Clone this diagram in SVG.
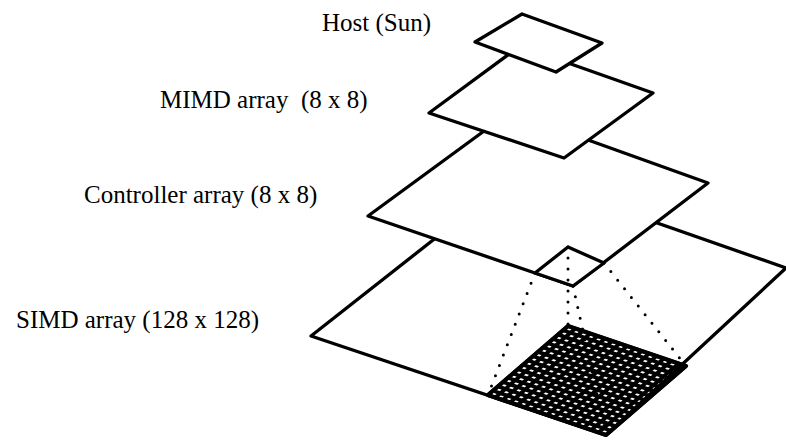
<svg xmlns="http://www.w3.org/2000/svg" width="786" height="442" viewBox="0 0 786 442">
<style>
.plane{fill:#fff;stroke:#000;stroke-width:3.3;stroke-linejoin:round}
.lbl{font-family:"Liberation Serif","Times New Roman",serif;font-size:25px;fill:#000;white-space:pre}
.grid{fill:none;stroke:#000;stroke-width:3.8}
.dot{fill:none;stroke:#000;stroke-width:3;stroke-linecap:round;stroke-dasharray:0 11}
</style>
<rect width="786" height="442" fill="#fff"/>
<g id="simd">
<polygon class="plane" points="517,174 786,268 606,435 311,336"/>
</g>
<g id="controller">
<polygon class="plane" points="510,112 708,183 573,286 368,216"/>
<polygon id="controller-cell" class="plane" points="568,247 604,263 573,286 535,273"/>
</g>
<g id="mimd">
<polygon class="plane" points="520,46 653,93 564,158 429,113"/>
</g>
<g id="host">
<polygon class="plane" points="522,14 602,43 556,72 475,42"/>
</g>
<g id="pe-grid">
<path class="grid" d="
M568,326L686,366M563,330.31L681,370.31M558,334.63L676,374.63M553,338.94L671,378.94M548,343.25L666,383.25M543,347.56L661,387.56M538,351.88L656,391.88M533,356.19L651,396.19M528,360.5L646,400.5M523,364.81L641,404.81M518,369.13L636,409.13M513,373.44L631,413.44M508,377.75L626,417.75M503,382.06L621,422.06M498,386.38L616,426.38M493,390.69L611,430.69M488,395L606,435
M568,326L488,395M575.38,328.5L495.38,397.5M582.75,331L502.75,400M590.13,333.5L510.13,402.5M597.5,336L517.5,405M604.88,338.5L524.88,407.5M612.25,341L532.25,410M619.63,343.5L539.63,412.5M627,346L547,415M634.38,348.5L554.38,417.5M641.75,351L561.75,420M649.13,353.5L569.13,422.5M656.5,356L576.5,425M663.88,358.5L583.88,427.5M671.25,361L591.25,430M678.63,363.5L598.63,432.5M686,366L606,435"/>
<polygon points="568,326 686,366 606,435 488,395" fill="none" stroke="#000" stroke-width="4.2" stroke-linejoin="round"/>
</g>
<g id="connectors">
<line class="dot" x1="535" y1="273" x2="488" y2="395"/>
<line class="dot" x1="568" y1="247" x2="568" y2="326"/>
<line class="dot" x1="573" y1="286" x2="606" y2="435"/>
<line class="dot" x1="604" y1="263" x2="686" y2="366"/>
</g>
<g id="labels">
<text class="lbl" x="322" y="31">Host (Sun)</text>
<text class="lbl" x="160" y="108">MIMD array  (8 x 8)</text>
<text class="lbl" x="84" y="203">Controller array (8 x 8)</text>
<text class="lbl" x="16" y="328">SIMD array (128 x 128)</text>
</g>
</svg>
